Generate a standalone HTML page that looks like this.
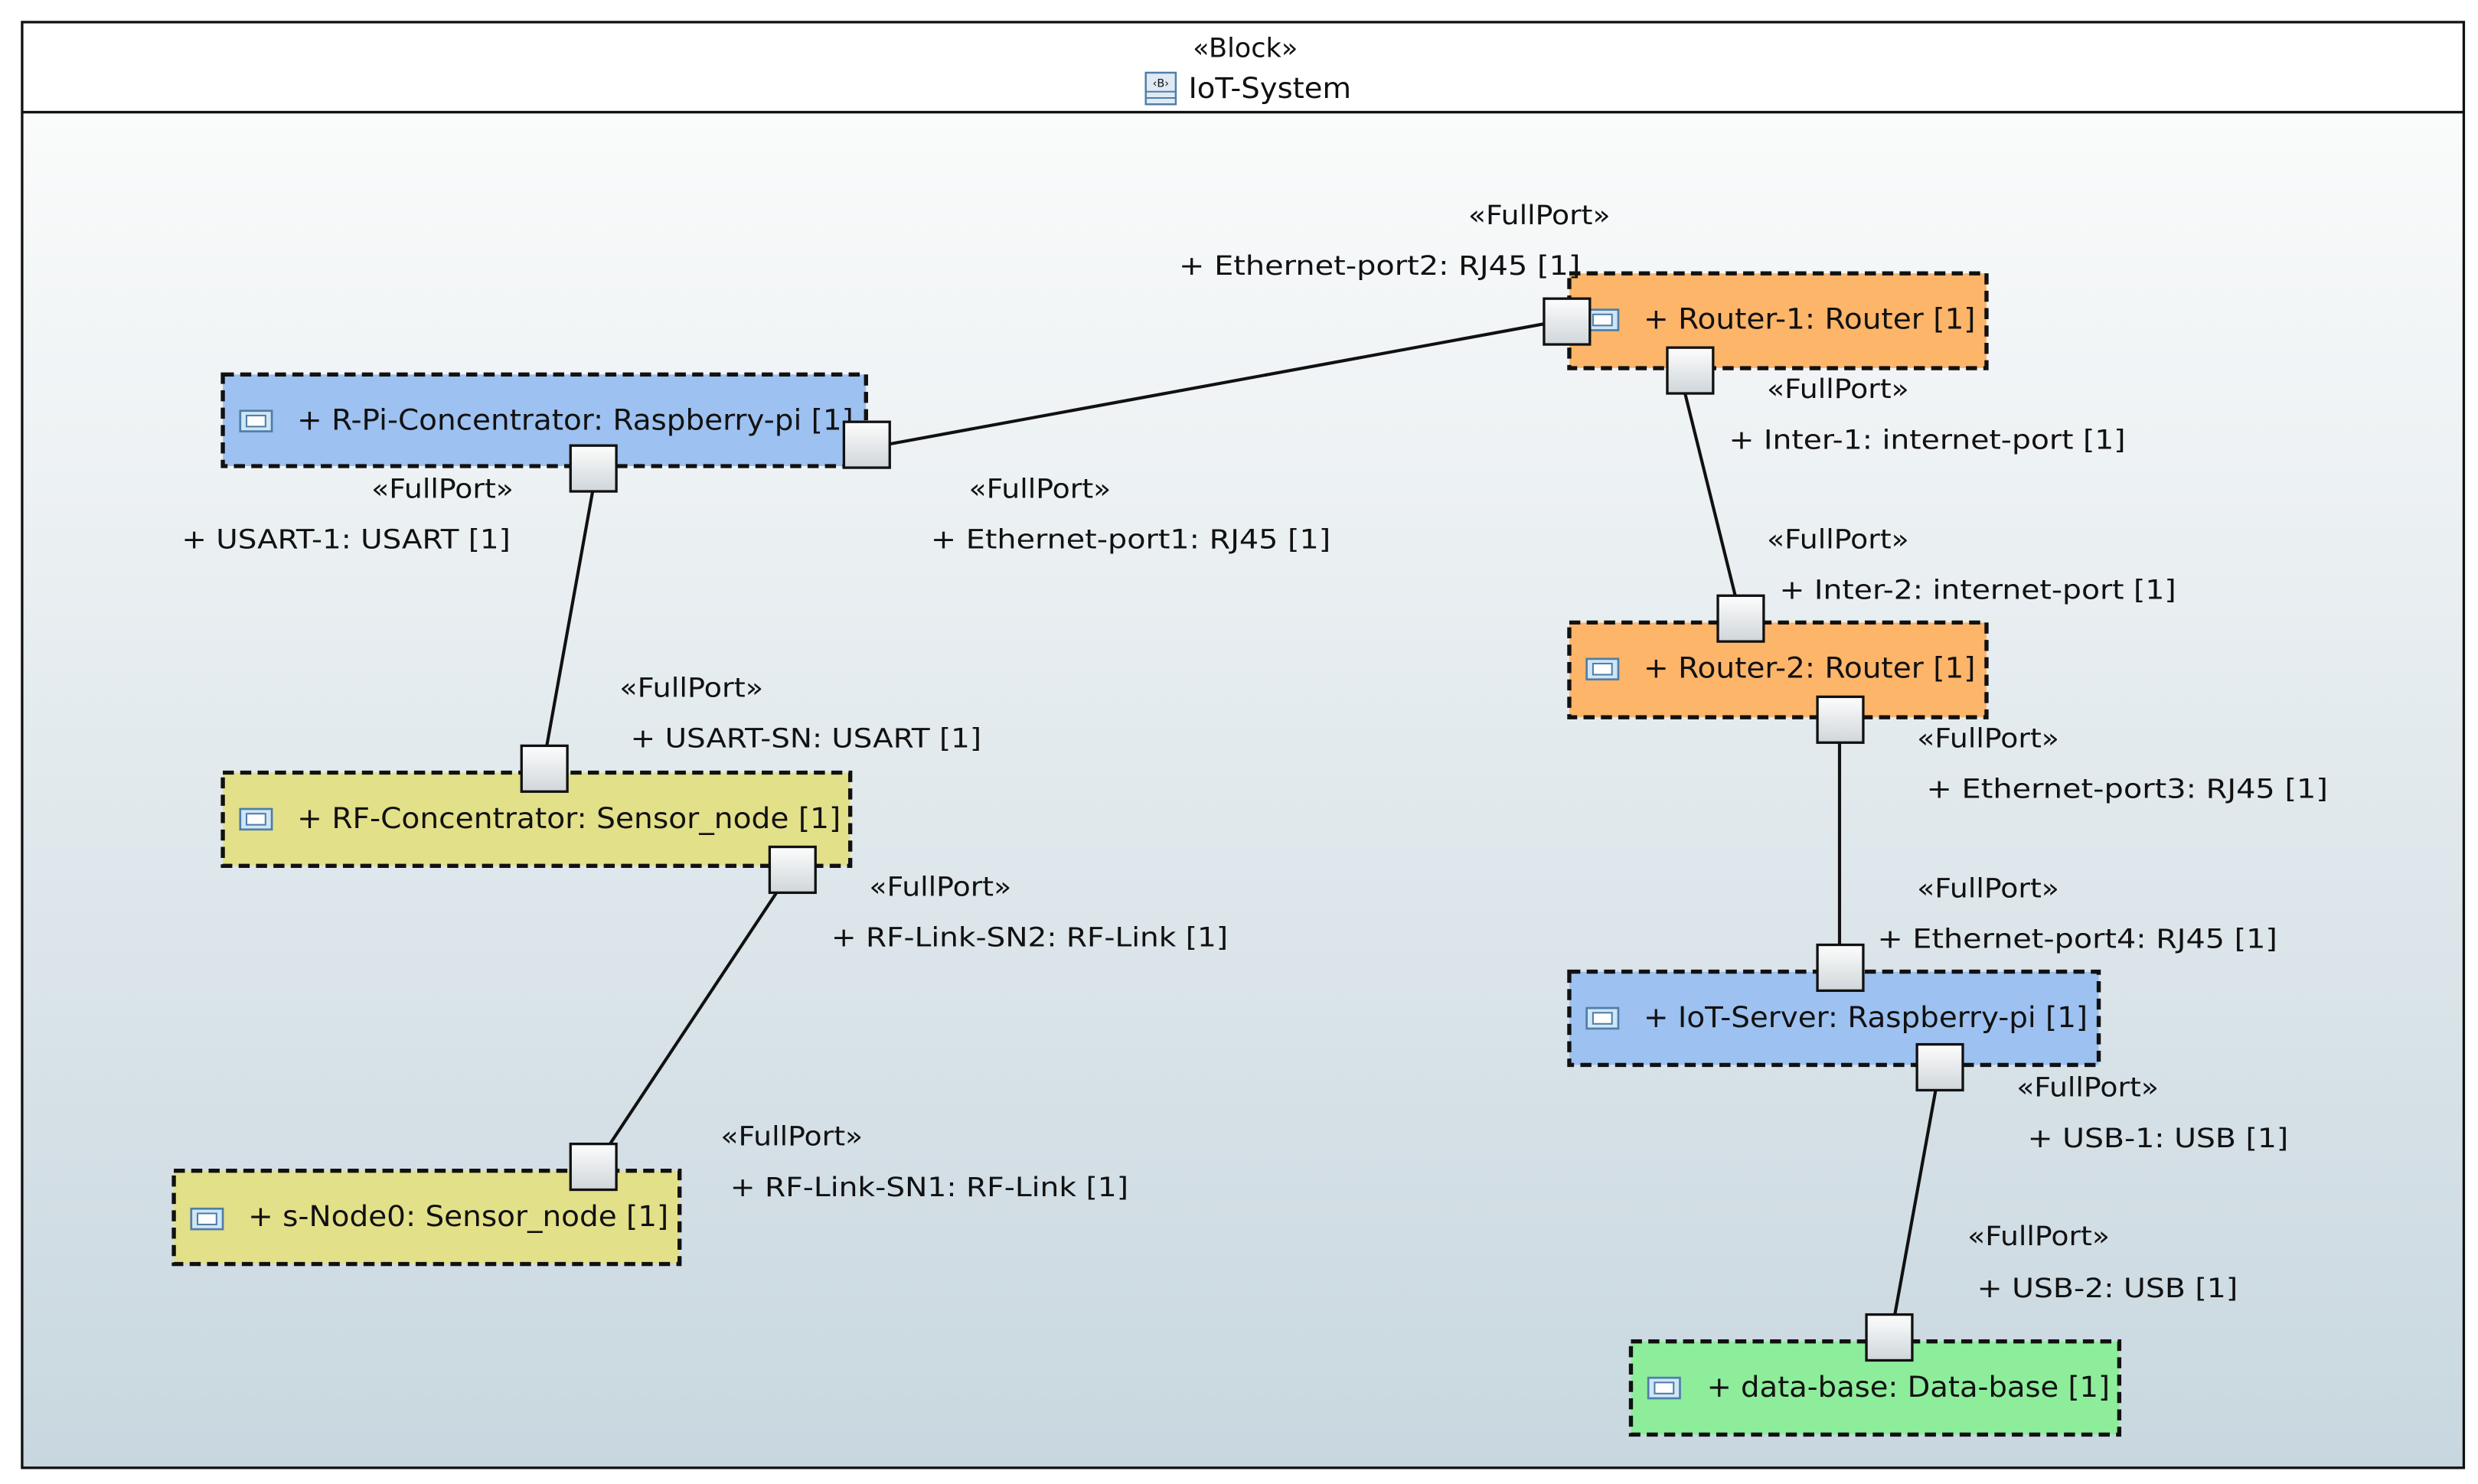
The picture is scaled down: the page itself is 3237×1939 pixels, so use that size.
<!DOCTYPE html>
<html><head><meta charset="utf-8"><style>
html,body{margin:0;padding:0;background:#fff;}
svg{display:block;}
text{font-family:"DejaVu Sans","Liberation Sans",sans-serif;fill:#111;}
</style></head><body>
<svg width="3237" height="1939" viewBox="0 0 1568 939.25" xmlns="http://www.w3.org/2000/svg">
<defs>
<linearGradient id="bg" x1="0" y1="0" x2="0" y2="1">
<stop offset="0" stop-color="#fafbfb"/><stop offset="1" stop-color="#c8d7df"/>
</linearGradient>
<linearGradient id="pg" x1="0" y1="0" x2="0" y2="1">
<stop offset="0" stop-color="#fdfdfd"/><stop offset="1" stop-color="#cfd6da"/>
</linearGradient>
<g id="ic"><rect x="0" y="-6" width="20" height="13" fill="#cfe6f7" stroke="#4f7ea8" stroke-width="1.3"/><rect x="4" y="-3" width="12" height="7" fill="#fff" stroke="#4f7ea8" stroke-width="1"/></g>
</defs>
<rect x="0" y="0" width="1568" height="940" fill="#fff"/>
<rect x="14" y="71" width="1545" height="858" fill="url(#bg)"/>
<rect x="14" y="14" width="1545" height="915" fill="none" stroke="#111" stroke-width="1.6"/>
<line x1="14" y1="71" x2="1559" y2="71" stroke="#111" stroke-width="1.6"/>
<text x="788" y="36" font-size="17" text-anchor="middle">«Block»</text>
<g transform="translate(725,46)"><rect x="0" y="0" width="19" height="20" fill="#dfeaf5" stroke="#4f7ea8" stroke-width="1.2"/><line x1="0" y1="12" x2="19" y2="12" stroke="#4f7ea8"/><line x1="0" y1="16" x2="19" y2="16" stroke="#4f7ea8"/><text x="9.5" y="9" font-size="7" text-anchor="middle" fill="#4f7ea8">‹B›</text></g>
<text x="752" y="62" font-size="18" textLength="103" lengthAdjust="spacingAndGlyphs">IoT-System</text>

<g stroke="#111" stroke-width="2" fill="none">
<line x1="563" y1="281" x2="977" y2="205"/>
<line x1="1066" y1="248" x2="1098" y2="377"/>
<line x1="1164" y1="469" x2="1164" y2="598"/>
<line x1="1225" y1="689" x2="1199" y2="832"/>
<line x1="375" y1="311" x2="346" y2="472"/>
<line x1="492" y1="564" x2="386" y2="724"/>
</g>

<g stroke="#111" stroke-width="2.6" stroke-dasharray="7 4">
<rect x="141" y="237" width="407" height="58" fill="#9dc1f0"/>
<rect x="993" y="173" width="264" height="60" fill="#fdb56a"/>
<rect x="993" y="394" width="264" height="60" fill="#fdb56a"/>
<rect x="993" y="615" width="335" height="59" fill="#9dc1f0"/>
<rect x="1032" y="849" width="309" height="59" fill="#8ded9b"/>
<rect x="141" y="489" width="397" height="59" fill="#e3e08a"/>
<rect x="110" y="741" width="320" height="59" fill="#e3e08a"/>
</g>

<use href="#ic" x="152" y="266"/>
<use href="#ic" x="1004" y="202"/>
<use href="#ic" x="1004" y="423"/>
<use href="#ic" x="1004" y="644"/>
<use href="#ic" x="1043" y="878"/>
<use href="#ic" x="152" y="518"/>
<use href="#ic" x="121" y="771"/>

<g font-size="18">
<text x="188" y="272" textLength="352" lengthAdjust="spacingAndGlyphs">+ R-Pi-Concentrator: Raspberry-pi [1]</text>
<text x="1040" y="208" textLength="210" lengthAdjust="spacingAndGlyphs">+ Router-1: Router [1]</text>
<text x="1040" y="429" textLength="210" lengthAdjust="spacingAndGlyphs">+ Router-2: Router [1]</text>
<text x="1040" y="650" textLength="281" lengthAdjust="spacingAndGlyphs">+ IoT-Server: Raspberry-pi [1]</text>
<text x="1080" y="884" textLength="255" lengthAdjust="spacingAndGlyphs">+ data-base: Data-base [1]</text>
<text x="188" y="524" textLength="344" lengthAdjust="spacingAndGlyphs">+ RF-Concentrator: Sensor_node [1]</text>
<text x="157" y="776" textLength="266" lengthAdjust="spacingAndGlyphs">+ s-Node0: Sensor_node [1]</text>
</g>

<g fill="url(#pg)" stroke="#111" stroke-width="1.6">
<rect x="361" y="282" width="29" height="29"/>
<rect x="534" y="267" width="29" height="29"/>
<rect x="977" y="189" width="29" height="29"/>
<rect x="1055" y="220" width="29" height="29"/>
<rect x="1087" y="377" width="29" height="29"/>
<rect x="1150" y="441" width="29" height="29"/>
<rect x="1150" y="598" width="29" height="29"/>
<rect x="1213" y="661" width="29" height="29"/>
<rect x="1181" y="832" width="29" height="29"/>
<rect x="330" y="472" width="29" height="29"/>
<rect x="487" y="536" width="29" height="29"/>
<rect x="361" y="724" width="29" height="29"/>
</g>

<g font-size="17" lengthAdjust="spacingAndGlyphs">
<text x="929" y="142" textLength="90" lengthAdjust="spacingAndGlyphs">«FullPort»</text>
<text x="746" y="174" textLength="254" lengthAdjust="spacingAndGlyphs">+ Ethernet-port2: RJ45 [1]</text>
<text x="1118" y="252" textLength="90" lengthAdjust="spacingAndGlyphs">«FullPort»</text>
<text x="1094" y="284" textLength="251" lengthAdjust="spacingAndGlyphs">+ Inter-1: internet-port [1]</text>
<text x="1118" y="347" textLength="90" lengthAdjust="spacingAndGlyphs">«FullPort»</text>
<text x="1126" y="379" textLength="251" lengthAdjust="spacingAndGlyphs">+ Inter-2: internet-port [1]</text>
<text x="1213" y="473" textLength="90" lengthAdjust="spacingAndGlyphs">«FullPort»</text>
<text x="1219" y="505" textLength="254" lengthAdjust="spacingAndGlyphs">+ Ethernet-port3: RJ45 [1]</text>
<text x="1213" y="568" textLength="90" lengthAdjust="spacingAndGlyphs">«FullPort»</text>
<text x="1188" y="600" textLength="253" lengthAdjust="spacingAndGlyphs">+ Ethernet-port4: RJ45 [1]</text>
<text x="1276" y="694" textLength="90" lengthAdjust="spacingAndGlyphs">«FullPort»</text>
<text x="1283" y="726" textLength="165" lengthAdjust="spacingAndGlyphs">+ USB-1: USB [1]</text>
<text x="1245" y="788" textLength="90" lengthAdjust="spacingAndGlyphs">«FullPort»</text>
<text x="1251" y="821" textLength="165" lengthAdjust="spacingAndGlyphs">+ USB-2: USB [1]</text>
<text x="235" y="315" textLength="90" lengthAdjust="spacingAndGlyphs">«FullPort»</text>
<text x="115" y="347" textLength="208" lengthAdjust="spacingAndGlyphs">+ USART-1: USART [1]</text>
<text x="613" y="315" textLength="90" lengthAdjust="spacingAndGlyphs">«FullPort»</text>
<text x="589" y="347" textLength="253" lengthAdjust="spacingAndGlyphs">+ Ethernet-port1: RJ45 [1]</text>
<text x="392" y="441" textLength="91" lengthAdjust="spacingAndGlyphs">«FullPort»</text>
<text x="399" y="473" textLength="222" lengthAdjust="spacingAndGlyphs">+ USART-SN: USART [1]</text>
<text x="550" y="567" textLength="90" lengthAdjust="spacingAndGlyphs">«FullPort»</text>
<text x="526" y="599" textLength="251" lengthAdjust="spacingAndGlyphs">+ RF-Link-SN2: RF-Link [1]</text>
<text x="456" y="725" textLength="90" lengthAdjust="spacingAndGlyphs">«FullPort»</text>
<text x="462" y="757" textLength="252" lengthAdjust="spacingAndGlyphs">+ RF-Link-SN1: RF-Link [1]</text>
</g>
</svg>
</body></html>
